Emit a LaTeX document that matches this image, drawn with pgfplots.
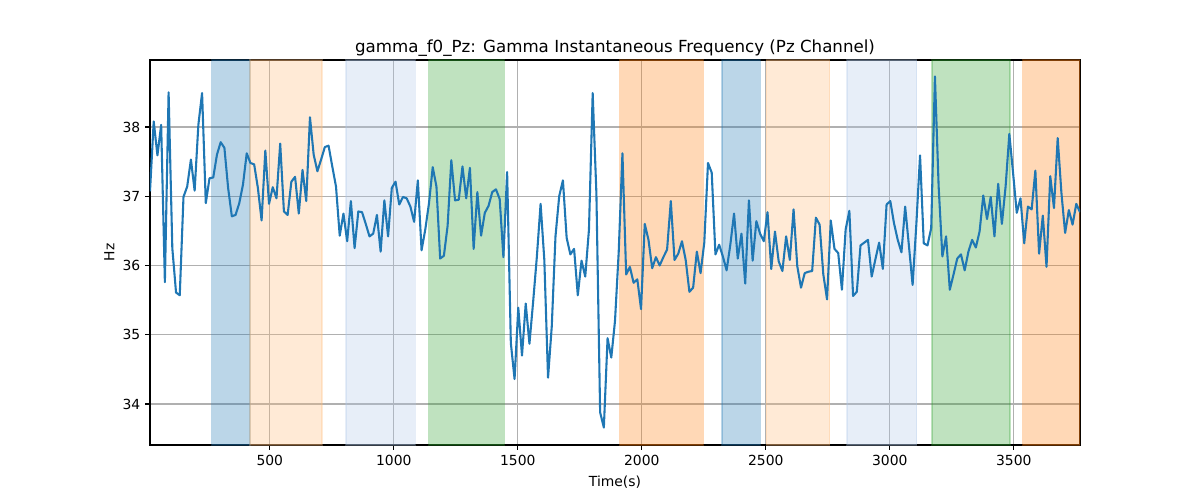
\documentclass[border=0pt]{standalone}
\usepackage{fontspec}
\setmainfont{DejaVu Sans}
\usepackage{pgfplots}
\pgfplotsset{compat=1.18}
\usepackage{pgfplotstable}
\definecolor{c0}{HTML}{1F77B4}
\definecolor{c0l}{HTML}{AEC7E8}
\definecolor{c1}{HTML}{FF7F0E}
\definecolor{c1l}{HTML}{FFBB78}
\definecolor{c2}{HTML}{2CA02C}
\definecolor{gridc}{HTML}{B0B0B0}
\pgfplotstableread{
x y
17 37.07
32 38.08
47 37.59
62 38.03
77 35.76
92 38.50
107 36.25
122 35.61
137 35.57
152 36.99
167 37.14
182 37.53
197 37.08
212 38.03
227 38.49
242 36.90
257 37.26
272 37.27
287 37.60
302 37.78
317 37.70
332 37.12
347 36.71
362 36.73
377 36.90
392 37.17
407 37.62
422 37.48
437 37.46
452 37.12
467 36.65
482 37.66
497 36.89
512 37.13
527 36.97
542 37.76
557 36.78
572 36.73
587 37.21
602 37.28
617 36.75
632 37.38
647 36.93
662 38.14
677 37.60
692 37.36
707 37.53
722 37.71
737 37.73
752 37.43
767 37.14
782 36.43
797 36.75
812 36.35
827 36.93
842 36.25
857 36.78
872 36.77
887 36.60
902 36.42
917 36.46
932 36.73
947 36.20
962 36.94
977 36.42
992 37.12
1007 37.21
1022 36.88
1037 36.99
1052 36.97
1067 36.85
1082 36.63
1097 37.23
1112 36.22
1127 36.52
1142 36.90
1157 37.42
1172 37.14
1187 36.10
1202 36.14
1217 36.57
1232 37.52
1247 36.94
1262 36.95
1277 37.43
1292 36.97
1307 37.41
1322 36.24
1337 37.06
1352 36.43
1367 36.76
1382 36.86
1397 37.06
1412 37.10
1427 36.96
1442 36.12
1457 37.35
1472 34.88
1487 34.36
1502 35.39
1517 34.70
1532 35.45
1547 34.87
1562 35.48
1577 36.13
1592 36.89
1607 36.08
1622 34.38
1637 35.12
1652 36.42
1667 37.00
1682 37.23
1697 36.40
1712 36.16
1727 36.24
1742 35.57
1757 36.07
1772 35.84
1787 36.52
1802 38.49
1817 37.04
1832 33.88
1847 33.66
1862 34.95
1877 34.67
1892 35.20
1907 36.20
1922 37.62
1937 35.87
1952 35.98
1967 35.75
1982 35.80
1997 35.37
2012 36.60
2027 36.37
2042 35.96
2057 36.12
2072 36.00
2087 36.12
2102 36.23
2117 36.93
2132 36.08
2147 36.17
2162 36.35
2177 36.08
2192 35.62
2207 35.68
2222 36.20
2237 35.89
2252 36.33
2267 37.48
2282 37.34
2297 36.16
2312 36.30
2327 36.13
2342 35.93
2357 36.30
2372 36.75
2387 36.10
2402 36.46
2417 35.74
2432 36.94
2447 36.07
2462 36.64
2477 36.46
2492 36.35
2507 36.77
2522 35.95
2537 36.49
2552 36.06
2567 35.92
2582 36.42
2597 36.08
2612 36.81
2627 35.99
2642 35.68
2657 35.89
2672 35.91
2687 35.92
2702 36.69
2717 36.59
2732 35.87
2747 35.51
2762 36.65
2777 36.24
2792 36.18
2807 35.65
2822 36.52
2837 36.79
2852 35.56
2867 35.62
2882 36.29
2897 36.33
2912 36.37
2927 35.84
2942 36.09
2957 36.33
2972 35.95
2987 36.88
3002 36.93
3017 36.61
3032 36.37
3047 36.19
3062 36.85
3077 36.29
3092 35.72
3107 36.59
3122 37.59
3137 36.32
3152 36.29
3167 36.54
3182 38.73
3197 37.14
3212 36.13
3227 36.42
3242 35.65
3257 35.87
3272 36.10
3287 36.16
3302 35.93
3317 36.20
3332 36.37
3347 36.26
3362 36.49
3377 37.01
3392 36.67
3407 36.99
3422 36.42
3437 37.18
3452 36.60
3467 37.14
3482 37.90
3497 37.34
3512 36.76
3527 36.97
3542 36.32
3557 36.85
3572 36.81
3587 37.37
3602 36.17
3617 36.72
3632 35.98
3647 37.29
3662 36.83
3677 37.84
3692 37.05
3707 36.47
3722 36.80
3737 36.59
3752 36.89
3767 36.77
}\datatable

\newcommand{\vspan}[3]{\addplot[draw=#3, draw opacity=0.3, fill=#3, fill opacity=0.3, line width=1pt] coordinates {(#1,33.408) (#2,33.408) (#2,38.967) (#1,38.967)} -- cycle;}

\begin{document}
\begin{tikzpicture}
\path[use as bounding box] (-108pt,-39.6pt) rectangle (756pt,320.4pt);
\begin{axis}[
  at={(0pt,0pt)}, anchor=south west,
  scale only axis,
  width=669.6pt, height=277.2pt,
  xmin=17, xmax=3767,
  ymin=33.408, ymax=38.967,
  xtick={500,1000,1500,2000,2500,3000,3500},
  ytick={34,35,36,37,38},
  scaled x ticks=false,
  /pgf/number format/assume math mode=true,
  /pgf/number format/1000 sep={},
  tick label style={font=\fontsize{10}{12}\selectfont, text=black},
  tick pos=left,
  tick align=outside,
  major tick length=3.5pt,
  every tick/.style={black, line width=0.8pt},
  axis line style={black, line width=0.8pt},
  grid=major,
  major grid style={gridc, line width=0.8pt},
  title={gamma\_f0\_Pz: Gamma Instantaneous Frequency (Pz Channel)},
  title style={font=\fontsize{12}{14}\selectfont, at={(0.5,1)}, anchor=south, yshift=-7pt},
  xlabel={Time(s)},
  ylabel={Hz},
  label style={font=\fontsize{10}{12}\selectfont},
  xlabel style={yshift=-1pt},
  ylabel style={yshift=-1pt},
]
\vspan{265}{421}{c0}
\vspan{421}{711}{c1l}
\vspan{807}{1087}{c0l}
\vspan{1140}{1446}{c2}
\vspan{1911}{2248}{c1}
\vspan{2323}{2478}{c0}
\vspan{2502}{2758}{c1l}
\vspan{2828}{3108}{c0l}
\vspan{3170}{3485}{c2}
\vspan{3536}{3767}{c1}
\addplot[c0, line width=1.5pt, line join=round, mark=none] table[x=x, y=y] {\datatable};
\end{axis}
\end{tikzpicture}
\end{document}
